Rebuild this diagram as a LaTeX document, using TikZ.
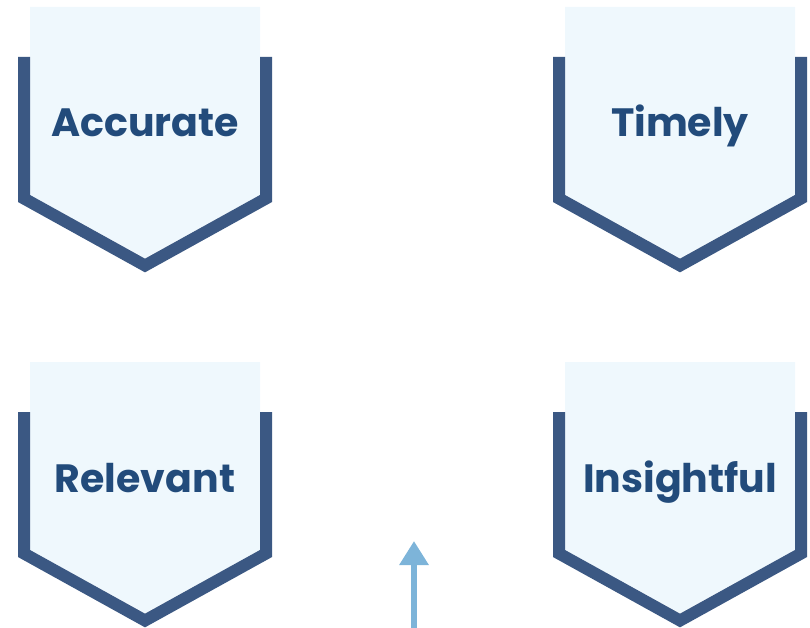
\documentclass[tikz,border=0pt]{standalone}
\usepackage{fontspec}
\setmainfont{Poppins}
\definecolor{badgefill}{HTML}{EFF8FD}
\definecolor{badgeline}{HTML}{3B5883}
\definecolor{badgetext}{HTML}{224B7B}
\definecolor{arrowblue}{HTML}{7DB4D9}
\tikzset{
  badgebg/.style={fill=badgefill, draw=none},
  badgeedge/.style={draw=badgeline, line width=12pt, line join=miter, line cap=butt},
  badgelabel/.style={text=badgetext, font=\fontsize{39.5}{42}\selectfont\bfseries, inner sep=0pt, anchor=base},
  uparrow/.style={draw=arrowblue, line width=6pt, -{Triangle[width=28pt,length=24pt]}}
}
\usetikzlibrary{arrows.meta}
\begin{document}
\begin{tikzpicture}[x=1pt,y=-1pt]
\useasboundingbox (0,0) rectangle (810,628);
\foreach \name/\lbl/\dx/\dy in {acc/Accurate/0/0, tim/Timely/535/0, rel/Relevant/0/355, ins/Insightful/535/355}{
  \begin{scope}[shift={(\dx,\dy)}]
    \fill[badgebg] (30,7) -- (260,7) -- (260,195) -- (145,258) -- (30,195) -- cycle;
    \draw[badgeedge] (24,57) -- (24,198.5) -- (145,265.5) -- (266,198.5) -- (266,57);
    \node[badgelabel] (\name) at (145,137) {\lbl};
  \end{scope}
}
\coordinate (arrowstart) at (414,628);
\coordinate (arrowend) at (414,541);
\draw[uparrow] (arrowstart) -- (arrowend);
\end{tikzpicture}
\end{document}
